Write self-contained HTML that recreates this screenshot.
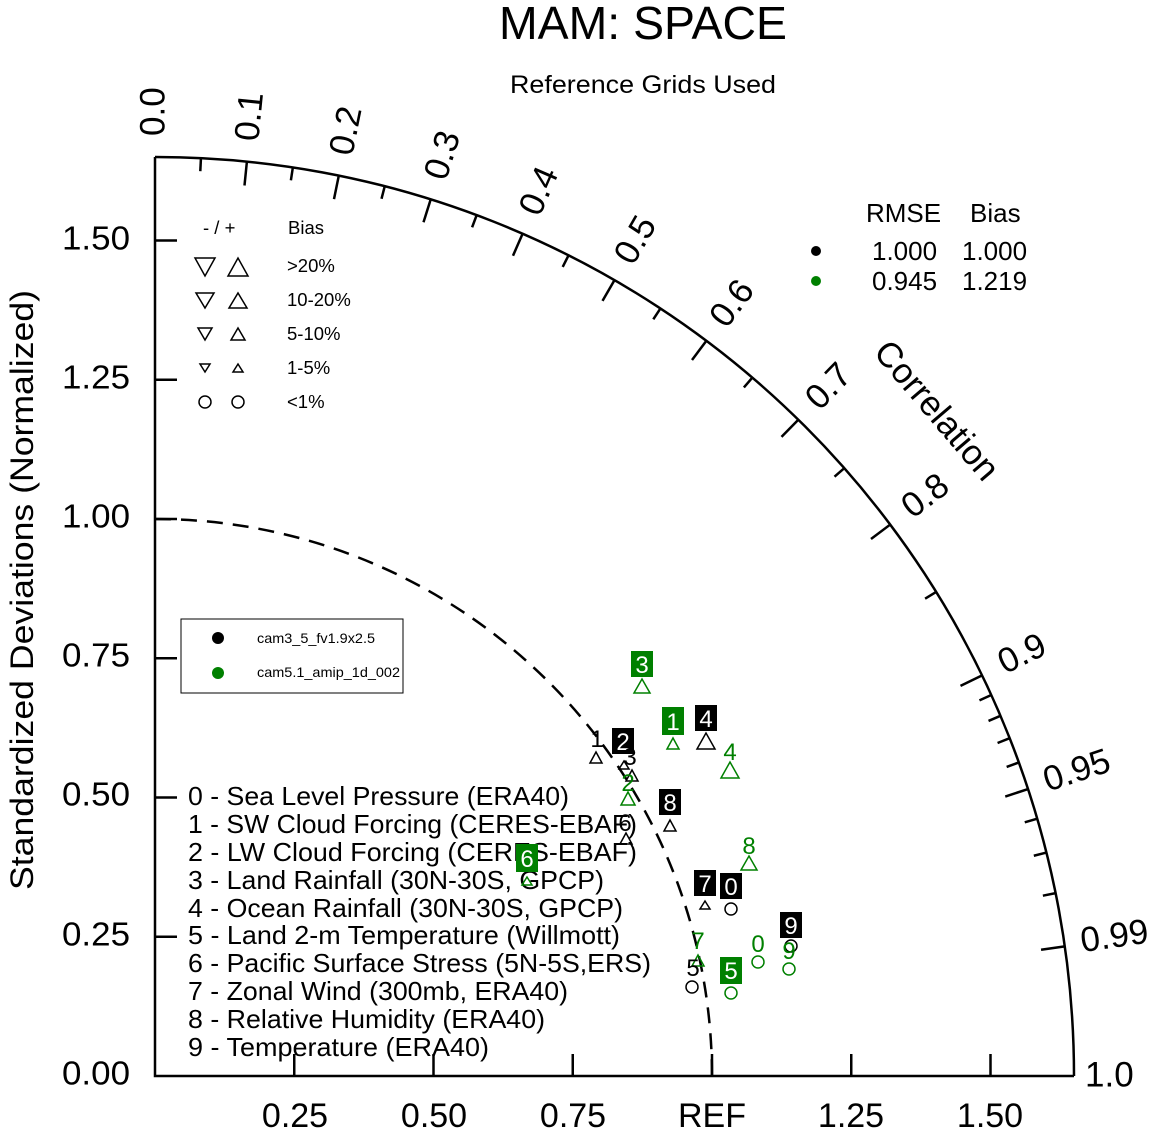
<!DOCTYPE html>
<html><head><meta charset="utf-8"><style>
html,body{margin:0;padding:0;background:#fff}
svg{display:block;font-family:"Liberation Sans",sans-serif}
</style></head><body>
<svg id="s" width="1151" height="1134" viewBox="0 0 1151 1134" xmlns="http://www.w3.org/2000/svg">
<text x="643" y="39" font-size="46" text-anchor="middle" textLength="288" lengthAdjust="spacingAndGlyphs">MAM: SPACE</text>
<text x="643" y="93" font-size="25" text-anchor="middle" textLength="266" lengthAdjust="spacingAndGlyphs">Reference Grids Used</text>
<text transform="translate(33,590) rotate(-90)" font-size="32" text-anchor="middle" textLength="600" lengthAdjust="spacingAndGlyphs">Standardized Deviations (Normalized)</text>
<g fill="none" stroke="#000" stroke-width="2.5">
<path d="M155,157 L155,1076 L1074,1076"/>
<path d="M155,157 A919,919 0 0 1 1074,1076"/>
<path d="M155,519 A557,557 0 0 1 712,1076" stroke-dasharray="16,10" stroke-width="2.5"/>
</g>
<g id="ticks" stroke="#000" stroke-width="2.5"></g>
<g font-size="33" text-anchor="end" dominant-baseline="middle">
<text x="130" y="241" textLength="68" lengthAdjust="spacingAndGlyphs">1.50</text><text x="130" y="380" textLength="68" lengthAdjust="spacingAndGlyphs">1.25</text><text x="130" y="519" textLength="68" lengthAdjust="spacingAndGlyphs">1.00</text>
<text x="130" y="658" textLength="68" lengthAdjust="spacingAndGlyphs">0.75</text><text x="130" y="797" textLength="68" lengthAdjust="spacingAndGlyphs">0.50</text><text x="130" y="937" textLength="68" lengthAdjust="spacingAndGlyphs">0.25</text><text x="130" y="1076" textLength="68" lengthAdjust="spacingAndGlyphs">0.00</text>
</g>
<g font-size="34" text-anchor="middle">
<text x="295" y="1127">0.25</text><text x="434" y="1127">0.50</text><text x="573" y="1127">0.75</text>
<text x="712" y="1127">REF</text><text x="851" y="1127">1.25</text><text x="990" y="1127">1.50</text>
</g>
<g font-size="35" dominant-baseline="middle">
<text transform="translate(155,136) rotate(-90)">0.0</text>
<text transform="translate(249,141) rotate(-84.3)">0.1</text>
<text transform="translate(343,155) rotate(-78.5)">0.2</text>
<text transform="translate(437,179) rotate(-72.5)">0.3</text>
<text transform="translate(531,214) rotate(-66.4)">0.4</text>
<text transform="translate(625,262) rotate(-60)">0.5</text>
<text transform="translate(719,324) rotate(-53.1)">0.6</text>
<text transform="translate(813,405) rotate(-45.6)">0.7</text>
<text transform="translate(907,512) rotate(-36.9)">0.8</text>
<text transform="translate(1001,666) rotate(-25.8)">0.9</text>
<text transform="translate(1045,783) rotate(-18.2)">0.95</text>
<text transform="translate(1081,943) rotate(-8.1)">0.99</text>
<text x="1085" y="1077">1.0</text>
</g>
<text transform="translate(935,412) rotate(49.5)" font-size="35" text-anchor="middle" dominant-baseline="middle">Correlation</text>
<!-- bias legend -->
<g font-size="18.5">
<text x="203" y="234">- / +</text><text x="288" y="234">Bias</text>
<text x="287" y="272">&gt;20%</text><text x="287" y="306">10-20%</text><text x="287" y="340">5-10%</text><text x="287" y="374">1-5%</text><text x="287" y="408">&lt;1%</text>
</g>
<g fill="none" stroke="#000" stroke-width="1.5">
<path d="M195,258 L215,258 L205,276Z"/><path d="M228,276 L248,276 L238,258Z"/>
<path d="M196,293 L214,293 L205,308Z"/><path d="M229,308 L247,308 L238,293Z"/>
<path d="M198,328 L212,328 L205,340Z"/><path d="M231,340 L245,340 L238,328Z"/>
<path d="M200,364 L210,364 L205,372Z"/><path d="M233,372 L243,372 L238,364Z"/>
<circle cx="205" cy="402" r="6"/><circle cx="238" cy="402" r="6"/>
</g>
<!-- RMSE table -->
<g font-size="26">
<text x="866" y="222">RMSE</text><text x="970" y="222">Bias</text>
<text x="872" y="260">1.000</text><text x="962" y="260">1.000</text>
<text x="872" y="290">0.945</text><text x="962" y="290">1.219</text>
</g>
<circle cx="816" cy="251" r="5" fill="#000"/><circle cx="816" cy="281" r="5" fill="#008000"/>
<!-- case legend -->
<rect x="181" y="619" width="222" height="74" fill="#fff" stroke="#000" stroke-width="1"/>
<circle cx="218" cy="638" r="6" fill="#000"/><circle cx="218" cy="673" r="6" fill="#008000"/>
<g font-size="14"><text x="257" y="643" textLength="118" lengthAdjust="spacingAndGlyphs">cam3_5_fv1.9x2.5</text><text x="257" y="677" textLength="143" lengthAdjust="spacingAndGlyphs">cam5.1_amip_1d_002</text></g>
<!-- list -->
<g font-size="26">
<text x="188" y="805" textLength="381" lengthAdjust="spacingAndGlyphs">0 - Sea Level Pressure (ERA40)</text>
<text x="188" y="833" textLength="449" lengthAdjust="spacingAndGlyphs">1 - SW Cloud Forcing (CERES-EBAF)</text>
<text x="188" y="861" textLength="449" lengthAdjust="spacingAndGlyphs">2 - LW Cloud Forcing (CERES-EBAF)</text>
<text x="188" y="889" textLength="416" lengthAdjust="spacingAndGlyphs">3 - Land Rainfall (30N-30S, GPCP)</text>
<text x="188" y="917" textLength="435" lengthAdjust="spacingAndGlyphs">4 - Ocean Rainfall (30N-30S, GPCP)</text>
<text x="188" y="944" textLength="432" lengthAdjust="spacingAndGlyphs">5 - Land 2-m Temperature (Willmott)</text>
<text x="188" y="972" textLength="463" lengthAdjust="spacingAndGlyphs">6 - Pacific Surface Stress (5N-5S,ERS)</text>
<text x="188" y="1000" textLength="380" lengthAdjust="spacingAndGlyphs">7 - Zonal Wind (300mb, ERA40)</text>
<text x="188" y="1028" textLength="357" lengthAdjust="spacingAndGlyphs">8 - Relative Humidity (ERA40)</text>
<text x="188" y="1056" textLength="301" lengthAdjust="spacingAndGlyphs">9 - Temperature (ERA40)</text>
</g>
<!-- markers -->
<g fill="none" stroke-width="1.5">
<g stroke="#000">
<path d="M590,763 L602,763 L596,752Z"/>
<path d="M619,769 L629,769 L624,761Z"/>
<path d="M626,781 L638,781 L632,770Z"/>
<path d="M664,831 L676,831 L670,820Z"/>
<path d="M620,844 L632,844 L626,833Z"/>
<path d="M697,749 L715,749 L706,733Z"/>
<path d="M700,909 L710,909 L705,901Z"/>
<circle cx="731" cy="909" r="6"/><circle cx="791" cy="946" r="6"/><circle cx="692" cy="987" r="6"/>
</g>
<g stroke="#008000">
<path d="M634,693 L650,693 L642,679Z"/>
<path d="M667,749 L679,749 L673,738Z"/>
<path d="M721,778 L739,778 L730,762Z"/>
<path d="M621,805 L635,805 L628,792Z"/>
<path d="M522,885 L532,885 L527,877Z"/>
<path d="M741,870 L757,870 L749,856Z"/>
<path d="M692,966 L704,966 L698,955Z"/>
<circle cx="758" cy="962" r="6"/><circle cx="789" cy="969" r="6"/><circle cx="731" cy="993" r="6"/>
</g>
</g>
<g font-size="24" text-anchor="middle">
<rect x="612" y="728" width="22" height="26" fill="#000"/><text x="623" y="750" fill="#fff">2</text>
<rect x="659" y="789" width="22" height="26" fill="#000"/><text x="670" y="811" fill="#fff">8</text>
<rect x="695" y="705" width="22" height="26" fill="#000"/><text x="706" y="727" fill="#fff">4</text>
<rect x="694" y="870" width="22" height="26" fill="#000"/><text x="705" y="892" fill="#fff">7</text>
<rect x="720" y="873" width="22" height="26" fill="#000"/><text x="731" y="895" fill="#fff">0</text>
<rect x="780" y="912" width="22" height="26" fill="#000"/><text x="791" y="934" fill="#fff">9</text>
<rect x="631" y="651" width="22" height="26" fill="#008000"/><text x="642" y="673" fill="#fff">3</text>
<rect x="662" y="707" width="22" height="28" fill="#008000"/><text x="673" y="730" fill="#fff">1</text>
<rect x="516" y="844" width="22" height="28" fill="#008000"/><text x="527" y="867" fill="#fff">6</text>
<rect x="720" y="957" width="22" height="27" fill="#008000"/><text x="731" y="979" fill="#fff">5</text>
<text x="597" y="747">1</text><text x="630" y="765">3</text><text x="625" y="831">6</text><text x="693" y="976">5</text>
<g fill="#008000"><text x="628" y="791">2</text><text x="730" y="760">4</text><text x="749" y="854">8</text>
<text x="698" y="949">7</text><text x="758" y="952">0</text><text x="789" y="959">9</text></g>
</g>
</svg>
<script>
(function(){
var g=document.getElementById('ticks'),h='';
function L(a,b,c,d){h+='<line x1="'+a+'" y1="'+b+'" x2="'+c+'" y2="'+d+'"/>';}
for(var i=1;i<=6;i++){var x=155+i*139.25;L(x,1076,x,1054);var y=1076-i*139.25;L(155,y,177,y);}
var maj=[0.1,0.2,0.3,0.4,0.5,0.6,0.7,0.8,0.9,0.95,0.99];
var mn=[0.05,0.15,0.25,0.35,0.45,0.55,0.65,0.75,0.85,0.91,0.92,0.93,0.94,0.96,0.97,0.98];
function T(r,len){var t=Math.acos(r),c=Math.cos(t),s=Math.sin(t);L(155+919*c,1076-919*s,155+(919-len)*c,1076-(919-len)*s);}
maj.forEach(function(r){T(r,24)});mn.forEach(function(r){T(r,13)});
g.innerHTML=h;
})();
</script>
</body></html>
